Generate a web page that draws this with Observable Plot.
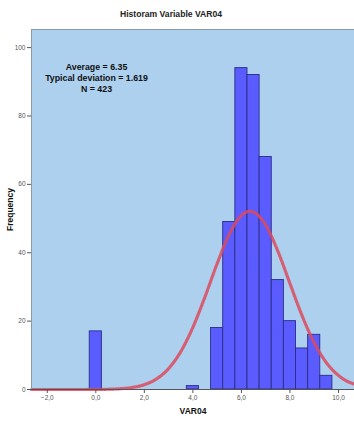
<!DOCTYPE html>
<html>
<head>
<meta charset="utf-8">
<script src="https://cdn.jsdelivr.net/npm/d3@7"></script>
<script src="https://cdn.jsdelivr.net/npm/@observablehq/plot@0.6"></script>
<style>
  html, body { margin: 0; padding: 0; background: #fff; }
  #title { height: 24px; width: 354px; box-sizing: border-box; padding-top: 9px; line-height: 10px;
    font: bold 8.6px "Liberation Sans", Arial, sans-serif; color: #222; text-align: center; padding-right: 12px; }
</style>
</head>
<body>
<div id="title">Historam Variable VAR04</div>
<div id="chart"></div>
<script>
// Histogram bins (centers, width 0.5) and counts
const binCenters = [0.0, 4.0, 5.0, 5.5, 6.0, 6.5, 7.0, 7.5, 8.0, 8.5, 9.0, 9.5];
const counts     = [17,  1,   18,  49,  94,  92,  68,  32,  20,  12,  16,  4];
const binWidth = 0.5;

// Fitted normal curve, values read along x
const curveX = [-2.65, -2.0, -1.0, 0.0, 0.5, 1.0, 1.5, 2.0, 2.5, 3.0, 3.5, 4.0, 4.5, 5.0, 5.5, 6.0, 6.35, 6.5, 7.0, 7.5, 8.0, 8.5, 9.0, 9.5, 10.0, 10.5, 10.66];
const curveY = [0, 0, 0, 0.02, 0.08, 0.22, 0.59, 1.41, 3.08, 6.13, 11.07, 18.18, 27.13, 36.82, 45.41, 50.92, 52.12, 51.90, 48.09, 40.50, 31.01, 21.58, 13.66, 7.86, 4.10, 1.95, 1.6];

const statsLines = ["Average = 6.35", "Typical deviation = 1.619", "N = 423"];
const xTicks = [-2, 0, 2, 4, 6, 8, 10];
const yTicks = [0, 20, 40, 60, 80, 100];

const bars = binCenters.map((c, i) => ({x1: c - binWidth / 2, x2: c + binWidth / 2, y: counts[i]}));
const curve = curveX.map((x, i) => ({x, y: curveY[i]}));

const chart = Plot.plot({
  width: 354,
  height: 397,
  marginTop: 5,
  marginLeft: 31,
  marginRight: 0,
  marginBottom: 32,
  style: {fontFamily: "'Liberation Sans', Arial, sans-serif", fontSize: "6.5px", color: "#555", background: "transparent"},
  x: {domain: [-2.65, 10.66]},
  y: {domain: [0, 105.3]},
  marks: [
    Plot.frame({fill: "#acd0ee", stroke: "none"}),
    Plot.rectY(bars, {x1: "x1", x2: "x2", y: "y", fill: "#5a5cff", stroke: "#2b2d85", strokeWidth: 0.9}),
    Plot.line(curve, {x: "x", y: "y", curve: "monotone-x", stroke: "#dc4a5e", strokeOpacity: 0.85, strokeWidth: 3.2, strokeDasharray: "1.2,1.5"}),
    Plot.frame({stroke: "#8a9aa8", strokeWidth: 1}),
    Plot.ruleY([0], {stroke: "#555", strokeWidth: 1}),
    Plot.axisX({ticks: xTicks, tickSize: 4, tickPadding: 2, tickFormat: d => d3.format(".1f")(d).replace(".", ","),
      label: "VAR04", labelArrow: "none", labelAnchor: "center", labelOffset: 24, stroke: "#555"}),
    Plot.axisY({ticks: yTicks, tickSize: 4, tickPadding: 2, label: "Frequency", labelArrow: "none", labelAnchor: "center", labelOffset: 25, stroke: "#555"}),
    Plot.text([statsLines.join("\n")], {frameAnchor: "top-left", dx: 65, dy: 48, textAnchor: "middle", lineAnchor: "middle",
      fontSize: 8.8, fontWeight: "bold", fill: "#111", lineHeight: 1.25,
      fontFamily: "'Liberation Sans', Arial, sans-serif"})
  ]
});
document.getElementById("chart").appendChild(chart);
const svg = d3.select(chart);
svg.selectAll("[aria-label='x-axis label'] text, [aria-label='y-axis label'] text")
  .text(function() { return this.textContent.replace(/[\u2191\u2192\u2190\u2193]/g, "").trim(); })
  .style("font-weight", "bold").style("font-size", "8.5px").style("fill", "#111");
</script>
</body>
</html>
